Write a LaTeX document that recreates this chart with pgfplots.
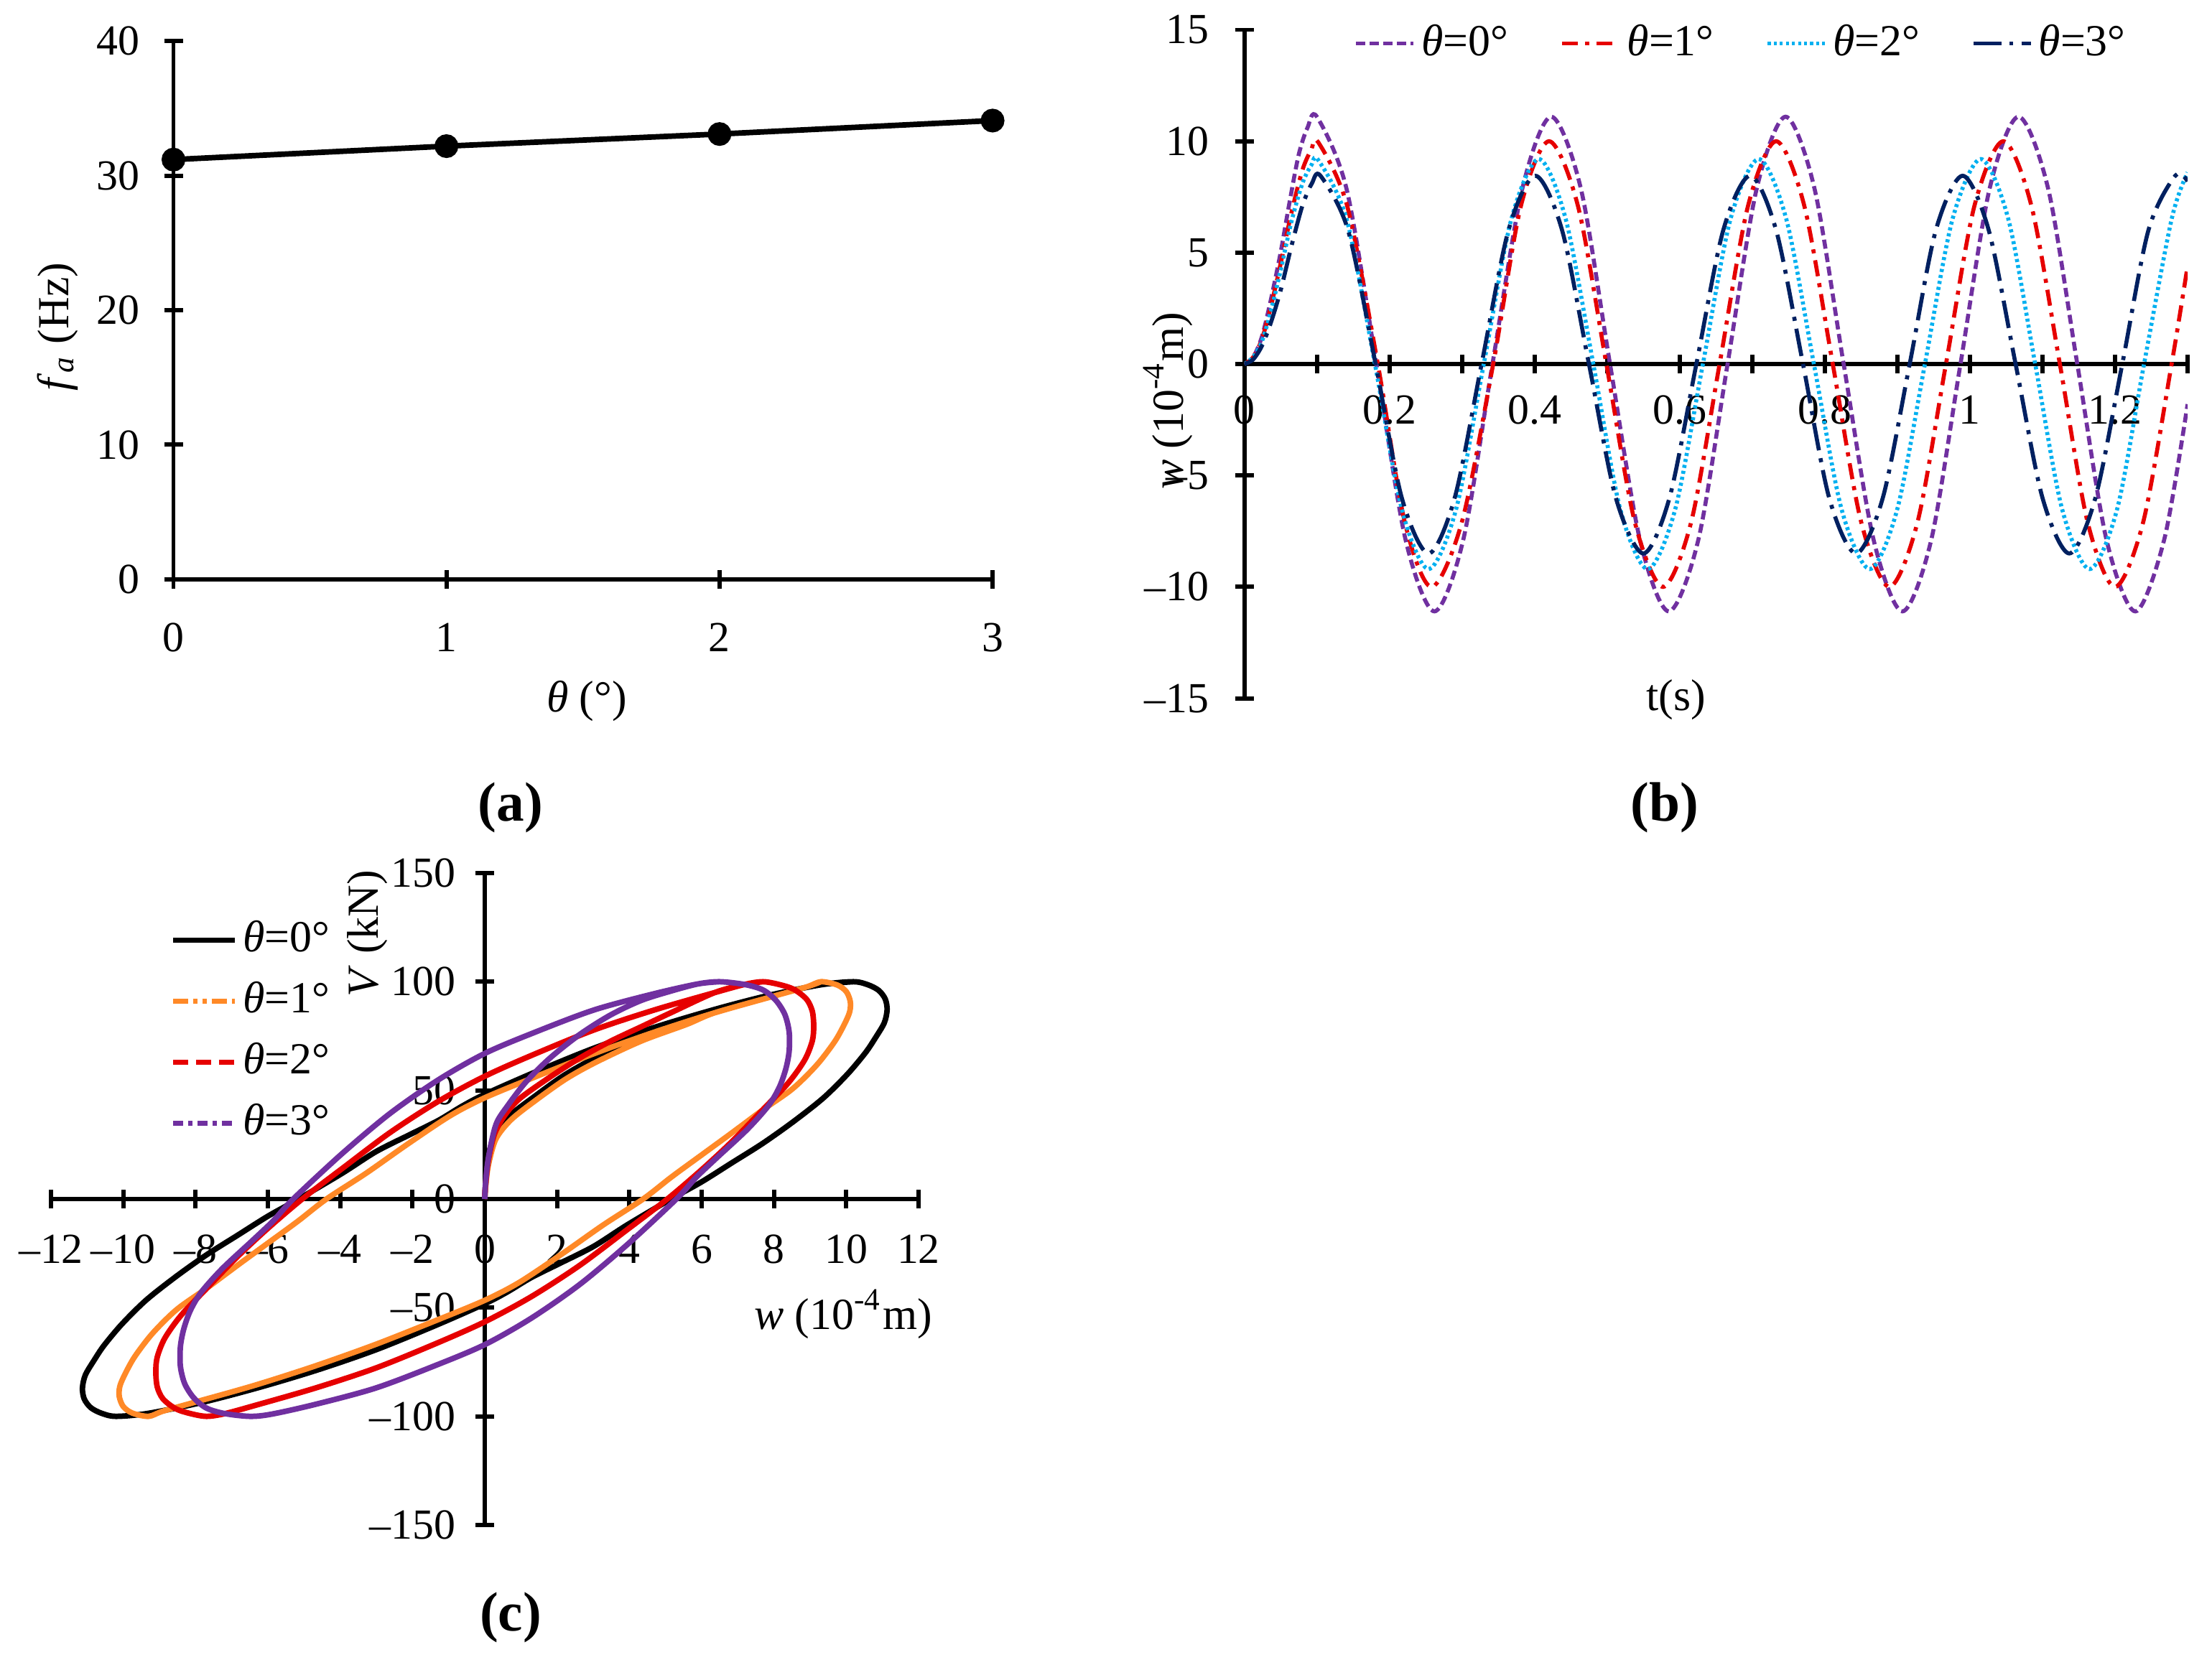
\documentclass[border=0pt]{standalone}
\usepackage{fontspec}
\setmainfont{Liberation Serif}
\usepackage{pgfplots}
\pgfplotsset{compat=1.18}

\definecolor{cpurple}{RGB}{112,48,160}
\definecolor{cred}{RGB}{230,0,0}
\definecolor{ccyan}{RGB}{0,176,240}
\definecolor{cnavy}{RGB}{0,32,96}
\definecolor{corange}{RGB}{255,137,39}

\pgfplotsset{
  panel/.style={
    scale only axis, anchor=south west, enlargelimits=false,
    every tick/.style={black, line width=0.85pt},
    major tick length=1.3mm, minor tick length=1.3mm,
    tick align=inside,
    hide obscured x ticks=false, hide obscured y ticks=false,
    /pgf/number format/assume math mode=true,
    tick label style={font=\fontsize{8.5pt}{10pt}\selectfont},
  },
  noarrow/.style={
    axis line style={-, line width=0.85pt},
    every inner x axis line/.append style={-},
    every outer x axis line/.append style={-},
    every inner y axis line/.append style={-},
    every outer y axis line/.append style={-},
  },
}

\begin{document}
\fontsize{8.8pt}{10.5pt}\selectfont
\begin{tikzpicture}
\path[use as bounding box] (0,0) rectangle (154mm,115.95mm);

% (a) frequency against angle
\begin{axis}[panel, at={(12.075mm,75.61mm)}, width=57.03mm, height=37.47mm,
  axis lines=left, noarrow,
  xmin=0, xmax=3, ymin=0, ymax=40,
  xtick={0,1,2,3}, ytick={0,10,20,30,40},
  xticklabel style={yshift=-1.3mm}, yticklabel style={xshift=-0.6mm},
  xlabel={\textit{θ} (°)},
  ylabel={\textit{f}\textsubscript{\textit{a}} (Hz)},
  xlabel style={at={(axis description cs:0.5046,-0.2258)}, anchor=center},
  ylabel style={at={(axis description cs:-0.1416,0.4694)}, anchor=center},
]
\addplot[black, line width=1.1pt, mark=*, mark size=1.8pt] coordinates {
  (0,31.2) (1,32.2) (2,33.1) (3,34.1)
};
\end{axis}

% (b) displacement time history
\begin{axis}[panel, at={(86.63mm,67.32mm)}, width=65.67mm, height=46.555mm,
  axis x line=middle, axis y line=left, noarrow,
  xmin=0, xmax=1.3, ymin=-15, ymax=15,
  xtick={0,0.1,0.2,0.3,0.4,0.5,0.6,0.7,0.8,0.9,1,1.1,1.2,1.3},
  xticklabels={0,,0.2,,0.4,,0.6,,0.8,,1,,1.2,},
  ytick={-15,-10,-5,0,5,10,15},
  yticklabels={–15,–10,–5,0,5,10,15},
  xticklabel style={yshift=-0.45mm}, yticklabel style={xshift=-0.7mm},
  xlabel={t(s)},
  ylabel={\textit{w} (10\textsuperscript{-4}m)},
  xlabel style={at={(axis description cs:0.4579,-0.0026)}, anchor=center},
  ylabel style={at={(axis description cs:-0.0812,0.445)}, anchor=center},
  legend columns=4,
  legend image code/.code={\draw[#1] (0mm,0mm) -- (4mm,0mm);},
  legend style={draw=none, fill=none, inner sep=0pt, nodes={inner sep=0.4mm},
    at={(axis description cs:0.1153,0.9795)}, anchor=west,
    /tikz/every even column/.append style={column sep=3.2mm}},
]
\addplot[cpurple, line width=0.8pt, dash pattern=on 1.8pt off 0.9pt, smooth] coordinates {
  (0,0) (0.012,0.3) (0.024,1.2) (0.036,2.8) (0.05,5.0) (0.062,7.2) (0.075,9.4) (0.087,10.6)
  (0.100,11.1) (0.141,7.85) (0.182,0) (0.222,-7.85) (0.262,-11.1) (0.302,-7.85) (0.342,0)
  (0.383,7.85) (0.423,11.1) (0.464,7.85) (0.504,0) (0.545,-7.85) (0.585,-11.1) (0.626,-7.85)
  (0.666,0) (0.706,7.85) (0.746,11.1) (0.786,7.85) (0.826,0) (0.867,-7.85) (0.907,-11.1)
  (0.947,-7.85) (0.987,0) (1.027,7.85) (1.067,11.1) (1.108,7.85) (1.148,0) (1.188,-7.85)
  (1.228,-11.1) (1.268,-7.85) (1.3,-1.8)
};
\addlegendentry{\textit{θ}=0°}
\addplot[cred, line width=0.8pt, dash pattern=on 3.2pt off 1.4pt on 0.8pt off 1.4pt, smooth] coordinates {
  (0,0) (0.012,0.3) (0.024,1.1) (0.036,2.5) (0.05,4.5) (0.065,6.8) (0.08,8.7) (0.092,9.6)
  (0.102,9.95) (0.142,7.07) (0.184,0) (0.221,-7.07) (0.258,-10) (0.300,-7.07) (0.343,0)
  (0.381,7.07) (0.420,10) (0.460,7.07) (0.499,0) (0.538,-7.07) (0.577,-10) (0.616,-7.07)
  (0.655,0) (0.694,7.07) (0.733,10) (0.772,7.07) (0.811,0) (0.850,-7.07) (0.889,-10)
  (0.928,-7.07) (0.967,0) (1.006,7.07) (1.046,10) (1.085,7.07) (1.124,0) (1.162,-7.07)
  (1.200,-10) (1.239,-7.07) (1.278,0) (1.3,4.4)
};
\addlegendentry{\textit{θ}=1°}
\addplot[ccyan, line width=0.8pt, dash pattern=on 0.6pt off 0.6pt, smooth] coordinates {
  (0,0) (0.012,0.3) (0.024,1.0) (0.036,2.3) (0.05,4.2) (0.065,6.4) (0.08,8.1) (0.092,8.9)
  (0.102,9.15) (0.141,6.5) (0.180,0) (0.217,-6.5) (0.254,-9.2) (0.292,-6.5) (0.330,0)
  (0.368,6.5) (0.406,9.2) (0.443,6.5) (0.481,0) (0.518,-6.5) (0.556,-9.2) (0.594,-6.5)
  (0.632,0) (0.670,6.5) (0.709,9.2) (0.747,6.5) (0.785,0) (0.823,-6.5) (0.862,-9.2)
  (0.900,-6.5) (0.938,0) (0.976,6.5) (1.015,9.2) (1.053,6.5) (1.090,0) (1.127,-6.5)
  (1.165,-9.2) (1.203,-6.5) (1.240,0) (1.278,6.5) (1.3,8.6)
};
\addlegendentry{\textit{θ}=2°}
\addplot[cnavy, line width=0.8pt, dash pattern=on 5.5pt off 1.6pt on 0.8pt off 1.6pt, smooth] coordinates {
  (0,0) (0.012,0.2) (0.024,0.8) (0.036,1.8) (0.05,3.3) (0.065,5.3) (0.08,7.1) (0.093,8.1)
  (0.105,8.45) (0.143,6.0) (0.181,0) (0.217,-6.0) (0.254,-8.5) (0.290,-6.0) (0.327,0)
  (0.364,6.0) (0.401,8.45) (0.438,6.0) (0.475,0) (0.512,-6.0) (0.550,-8.5) (0.586,-6.0)
  (0.623,0) (0.660,6.0) (0.697,8.45) (0.733,6.0) (0.770,0) (0.806,-6.0) (0.843,-8.5)
  (0.880,-6.0) (0.917,0) (0.953,6.0) (0.990,8.45) (1.026,6.0) (1.063,0) (1.100,-6.0)
  (1.137,-8.5) (1.173,-6.0) (1.210,0) (1.246,6.0) (1.283,8.45) (1.3,8.2)
};
\addlegendentry{\textit{θ}=3°}
\end{axis}

% (c) hysteresis loops
\begin{axis}[panel, at={(3.55mm,9.75mm)}, width=60.4mm, height=45.4mm,
  axis lines=middle, noarrow,
  xmin=-12, xmax=12, ymin=-150, ymax=150,
  xtick={-12,-10,-8,-6,-4,-2,0,2,4,6,8,10,12},
  xticklabels={–12,–10,–8,–6,–4,–2,0,2,4,6,8,10,12},
  ytick={-150,-100,-50,0,50,100,150},
  yticklabels={–150,–100,–50,0,50,100,150},
  xticklabel style={yshift=-0.75mm}, yticklabel style={xshift=-0.3mm},
  xlabel={\textit{w} (10\textsuperscript{-4}m)},
  ylabel={\textit{V} (kN)},
  xlabel style={at={(axis description cs:0.9131,0.3238)}, anchor=center},
  ylabel style={at={(axis description cs:0.365,0.9075)}, anchor=center, rotate=90},
  legend image code/.code={\draw[#1] (0mm,0mm) -- (4.3mm,0mm);},
  legend cell align=left,
  legend style={draw=none, fill=none, inner sep=0pt,
    nodes={inner sep=0.35mm, text height=2.4mm, text depth=0.8mm},
    row sep=0.35mm,
    at={(axis description cs:0.1366,0.9416)}, anchor=north west},
]
\addlegendimage{black, line width=1.1pt}
\addlegendentry{\textit{θ}=0°}
\addlegendimage{corange, line width=1.1pt, dash pattern=on 3pt off 1pt on 0.8pt off 1pt on 0.8pt off 1pt}
\addlegendentry{\textit{θ}=1°}
\addlegendimage{cred, line width=1.1pt, dash pattern=on 3pt off 1.5pt}
\addlegendentry{\textit{θ}=2°}
\addlegendimage{cpurple, line width=1.1pt, dash pattern=on 2pt off 1pt on 0.8pt off 1pt}
\addlegendentry{\textit{θ}=3°}

\addplot[black, line width=1.1pt, smooth, tension=0.5, forget plot] coordinates {
  (0,0) (0.02,6) (0.1,20) (0.3,30) (0.7,38.5) (1.4,47.5) (2.2,57) (3.1,65.5) (4.0,73) (4.8,79)
  (6.2,86.5) (7.8,93.5) (9.3,98.6)
  (10.2,100) (10.6,98.6) (10.9,96) (11.08,92) (11.13,87) (11.05,81) (10.8,74) (10.53,67.3)
  (10.03,57.4) (9.36,46.4) (8.52,35.4) (7.68,25.5) (6.84,16.7) (6.0,7.9) (5.15,0) (3.94,-11.9)
  (3.01,-21.8) (2.09,-29.5) (1.29,-36.1) (0.63,-42.7) (0,-48.2) (-1.35,-58.1) (-3.0,-69.3)
  (-4.6,-78.5) (-6.2,-86.5) (-7.8,-93.5) (-9.3,-98.6) (-10.2,-100)
  (-10.6,-98.6) (-10.9,-96) (-11.08,-92) (-11.13,-87) (-11.05,-81) (-10.8,-74) (-10.53,-67.3)
  (-10.03,-57.4) (-9.36,-46.4) (-8.52,-35.4) (-7.68,-25.5) (-6.84,-16.7) (-6.0,-7.9) (-5.15,0)
  (-3.94,11.9) (-3.01,21.8) (-2.09,29.5) (-1.29,36.1) (-0.63,42.7) (0,48.2) (1.35,58.1)
  (3.0,69.3) (4.6,78.5) (6.2,86.5) (7.8,93.5) (9.3,98.6) (10.2,100)
};
\addplot[corange, line width=1.1pt, smooth, tension=0.5, forget plot] coordinates {
  (0,0) (0.02,5) (0.1,15.6) (0.31,27.7) (0.73,36.5) (1.4,45.3) (2.24,55.2) (3.07,62.9)
  (4.33,72.7) (5.59,80.4) (6.36,85.7) (8.0,93.4) (8.9,97.6)
  (9.3,100) (9.75,98.5) (10.0,95.5) (10.11,91) (10.1,86.5) (9.98,81.5) (9.69,72.7) (9.19,61.8)
  (8.52,50.8) (7.68,40.9) (6.84,30.5) (6.0,20.3) (5.17,10.2) (4.38,0) (3.28,-11.9) (2.15,-25.1)
  (0.96,-38.3) (0,-46.6) (-1.35,-55.9) (-3.02,-66.9) (-4.69,-76.8) (-6.36,-85.7) (-8.0,-93.4)
  (-8.9,-97.6) (-9.3,-100)
  (-9.75,-98.5) (-10.0,-95.5) (-10.11,-91) (-10.1,-86.5) (-9.98,-81.5) (-9.69,-72.7)
  (-9.19,-61.8) (-8.52,-50.8) (-7.68,-40.9) (-6.84,-30.5) (-6.0,-20.3) (-5.17,-10.2) (-4.38,0)
  (-3.28,11.9) (-2.15,25.1) (-0.96,38.3) (0,46.6) (1.35,55.9) (3.02,66.9) (4.69,76.8)
  (6.36,85.7) (8.0,93.4) (8.9,97.6) (9.3,100)
};
\addplot[cred, line width=1.1pt, smooth, tension=0.5, forget plot] coordinates {
  (0,0) (0.02,6) (0.1,17.8) (0.27,29.9) (0.56,38.7) (0.98,46.4) (1.82,56.3) (2.65,65.1)
  (3.49,72.7) (4.33,79.3) (5.17,85.9) (6.36,95) (7.2,98.8)
  (7.7,100) (8.15,98.7) (8.55,96.5) (8.9,92) (9.06,86.5) (9.1,79.5) (9.06,72.7) (8.85,64)
  (8.4,53.5) (7.68,40.9) (6.84,26.5) (6.0,13.5) (5.05,0) (3.94,-14.1) (2.62,-30.6) (1.29,-44.9)
  (0,-56.5) (-1.35,-66.5) (-3.02,-77.8) (-4.69,-87) (-6.36,-95) (-7.2,-98.8) (-7.7,-100)
  (-8.15,-98.7) (-8.55,-96.5) (-8.9,-92) (-9.06,-86.5) (-9.1,-79.5) (-9.06,-72.7) (-8.85,-64)
  (-8.4,-53.5) (-7.68,-40.9) (-6.84,-26.5) (-6.0,-13.5) (-5.05,0) (-3.94,14.1) (-2.62,30.6)
  (-1.29,44.9) (0,56.5) (1.35,66.5) (3.02,77.8) (4.69,87) (6.36,95) (7.2,98.8) (7.7,100)
};
\addplot[cpurple, line width=1.1pt, smooth, tension=0.5, forget plot] coordinates {
  (0,0) (0.02,7) (0.1,18.9) (0.31,34.3) (0.64,43.1) (1.15,54.1) (1.82,65.1) (2.65,76)
  (3.49,84.8) (4.33,91.4) (5.17,95.8) (5.9,99)
  (6.5,100) (7.2,98.7) (7.7,96.2) (8.05,91.5) (8.3,85) (8.42,77) (8.42,68) (8.33,60) (8.15,51.5)
  (7.85,43) (7.26,32) (6.42,19) (5.85,10) (5.3,0) (3.94,-21) (2.62,-39.4) (1.29,-54.8) (0,-67)
  (-1.35,-76.5) (-3.02,-87) (-4.69,-94.5) (-5.9,-99) (-6.5,-100)
  (-7.2,-98.7) (-7.7,-96.2) (-8.05,-91.5) (-8.3,-85) (-8.42,-77) (-8.42,-68) (-8.33,-60)
  (-8.15,-51.5) (-7.85,-43) (-7.26,-32) (-6.42,-19) (-5.85,-10) (-5.3,0) (-3.94,21)
  (-2.62,39.4) (-1.29,54.8) (0,67) (1.35,76.5) (3.02,87) (4.69,94.5) (5.9,99) (6.5,100)
};
\end{axis}

\node[font=\fontsize{11pt}{13pt}\selectfont\bfseries] at (35.55mm,59.7mm) {(a)};
\node[font=\fontsize{11pt}{13pt}\selectfont\bfseries] at (115.9mm,59.7mm) {(b)};
\node[font=\fontsize{11pt}{13pt}\selectfont\bfseries] at (35.55mm,3.3mm) {(c)};
\end{tikzpicture}
\end{document}
